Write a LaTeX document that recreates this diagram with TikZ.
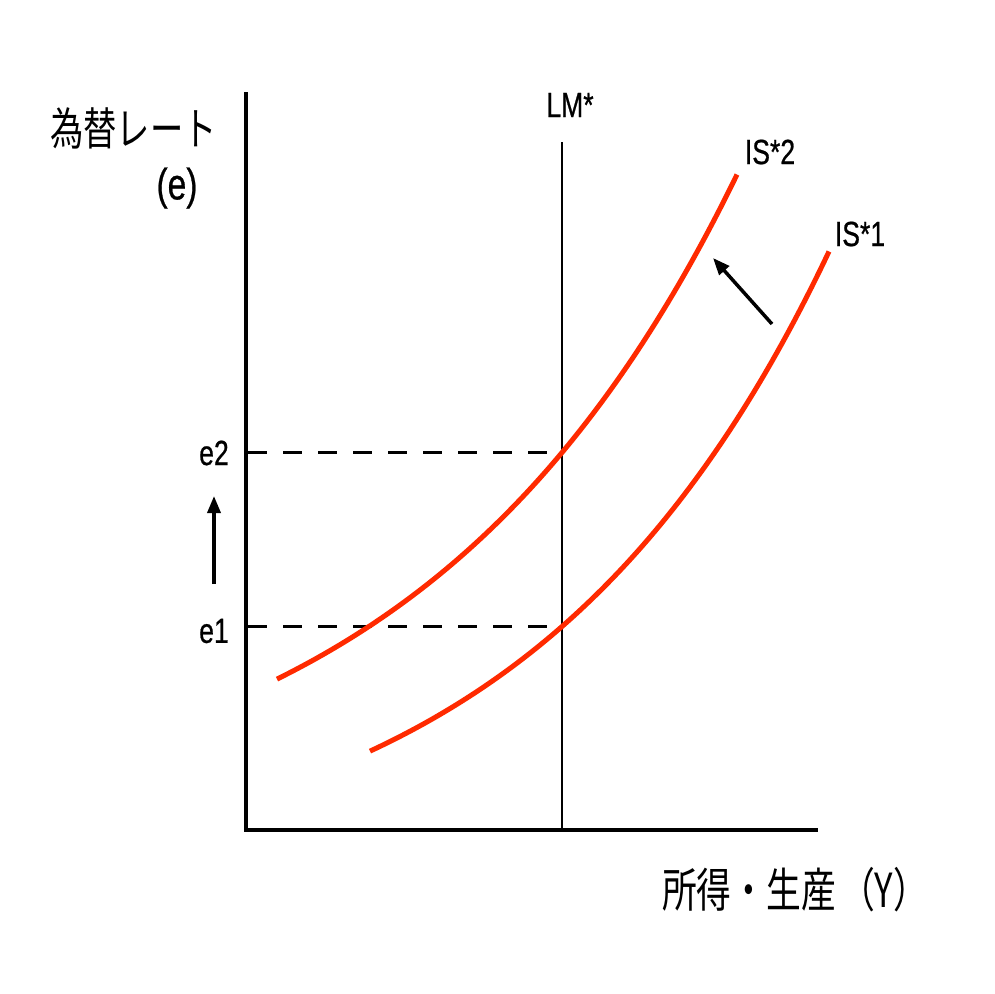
\documentclass[tikz,border=0pt]{standalone}
\usepackage{fontspec}
\setmainfont{Liberation Sans}[FakeStretch=0.76, FakeBold=0.6]
\newfontfamily\jp{Noto Sans CJK JP}[FakeStretch=0.74]
\usetikzlibrary{arrows.meta}
\definecolor{curvered}{HTML}{FF2A00}
\tikzset{
  axis/.style={line width=4.5pt},
  lmline/.style={line width=2pt},
  iscurve/.style={curvered, line width=5pt},
  guide/.style={line width=3pt, dash pattern=on 19pt off 16pt},
  shiftarrow/.style={line width=3.5pt, -{Triangle[length=17pt,width=13pt]}},
  lbl/.style={font=\fontsize{35}{40}\selectfont, inner sep=0pt},
  jlbl/.style={font=\fontsize{45}{50}\selectfont\jp, inner sep=0pt},
}
\begin{document}
\begin{tikzpicture}[x=1pt,y=-1pt]
\useasboundingbox (0,0) rectangle (994,994);
% axes
\coordinate (O) at (246,830);
\coordinate (ytop) at (246,92);
\coordinate (xend) at (818,830);
\draw[axis] (ytop) -- (O) -- (xend);
% LM*
\coordinate (lmtop) at (562,142);
\coordinate (lmbot) at (562,830);
\draw[lmline] (lmtop) -- (lmbot);
\node[lbl] (lm) at (570,105) {LM*};
% dashed guides
\coordinate (e2l) at (248,452);
\coordinate (e2r) at (562,452);
\coordinate (e1l) at (248,626);
\coordinate (e1r) at (562,626);
\draw[guide] (e2l) -- (e2r);
\draw[guide] (e1l) -- (e1r);
\node[lbl] (e2) at (214,453) {e2};
\node[lbl] (e1) at (214,631) {e1};
% IS curves
\draw[iscurve] plot[domain=277:737, samples=80] (\x, {830 - (-8.9 + 67.76*exp(0.0031*\x))});
\draw[iscurve] plot[domain=370:829, samples=80] (\x, {830 - (-62.3 + 41.7*exp(0.0033*\x))});
\node[lbl] (is2) at (770,152) {IS*2};
\node[lbl] (is1) at (860,234) {IS*1};
% shift arrows
\coordinate (a1s) at (214,584);
\coordinate (a1e) at (214,496);
\draw[shiftarrow] (a1s) -- (a1e);
\coordinate (a2s) at (772,324);
\coordinate (a2e) at (713,258);
\draw[shiftarrow] (a2s) -- (a2e);
% axis titles
\node[jlbl, anchor=west] (ytitle) at (50,128) {為替レート};
\node[lbl, font=\fontsize{44}{48}\selectfont] (yvar) at (177,188) {(e)};
\node[jlbl, anchor=west, font=\fontsize{47}{52}\selectfont\jp] (xtitle) at (662,890) {所得・生産\kern4pt（Y）};
\end{tikzpicture}
\end{document}
